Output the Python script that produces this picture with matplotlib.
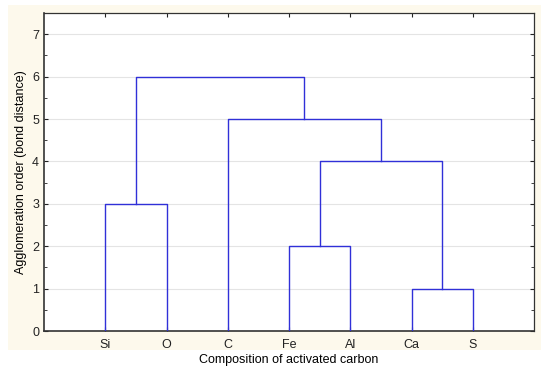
import numpy as np
import matplotlib
matplotlib.use('Agg')
import matplotlib.pyplot as plt
from matplotlib.patches import Rectangle
from matplotlib.ticker import MultipleLocator

plt.rcParams['font.family'] = ['Liberation Sans', 'DejaVu Sans']

# Leaf order along the x axis
leaves = ["Si", "O", "C", "Fe", "Al", "Ca", "S"]

# Merge steps: (left cluster, right cluster, bond distance)
merge_left = ["Ca", "Fe", "Si", "Fe+Al", "C", "Si+O"]
merge_right = ["S", "Al", "O", "Ca+S", "Fe+Al+Ca+S", "C+Fe+Al+Ca+S"]
merge_height = [1, 2, 3, 4, 5, 6]

LINE_COLOR = "#3030d8"

fig = plt.figure(figsize=(5.5, 3.71), dpi=100)
# cream panel behind the plot, like the original export
fig.patches.append(Rectangle((8 / 550, 21 / 371), 533 / 550, 345 / 371,
                             transform=fig.transFigure, facecolor="#fdf9ec",
                             edgecolor="none", zorder=-10))
ax = fig.add_axes([44 / 550, 40 / 371, 490 / 550, 318 / 371])
ax.set_facecolor("white")

# leaf x positions and heights
pos = {name: i + 1 for i, name in enumerate(leaves)}
hgt = {name: 0 for name in leaves}

for a, b, h in zip(merge_left, merge_right, merge_height):
    xa, xb = pos[a], pos[b]
    ax.plot([xa, xa, xb, xb], [hgt[a], h, h, hgt[b]], color=LINE_COLOR, lw=1.0, zorder=3)
    key = a + "+" + b
    pos[key] = (xa + xb) / 2
    hgt[key] = h

ax.set_xlim(0, len(leaves) + 1)
ax.set_ylim(0, 7.5)
ax.set_xticks(range(1, len(leaves) + 1))
ax.set_xticklabels(leaves)
ax.yaxis.set_major_locator(MultipleLocator(1))
ax.yaxis.set_minor_locator(MultipleLocator(0.5))
ax.grid(axis="y", which="major", color="#e4e4e4", lw=0.8, zorder=1)

ax.tick_params(axis="both", which="both", direction="in", top=True, right=True,
               labelsize=9, colors="#222222", length=3)
ax.tick_params(axis="both", which="minor", length=2)
ax.tick_params(axis="x", pad=6)
for sp in ax.spines.values():
    sp.set_color("#333333")
    sp.set_linewidth(0.9)
ax.spines["left"].set_linewidth(1.2)
ax.spines["bottom"].set_linewidth(1.2)

ax.set_xlabel("Composition of activated carbon", fontsize=9, labelpad=2)
ax.set_ylabel("Agglomeration order (bond distance)", fontsize=9, labelpad=4)

fig.savefig("out.png", dpi=100, facecolor="white")
